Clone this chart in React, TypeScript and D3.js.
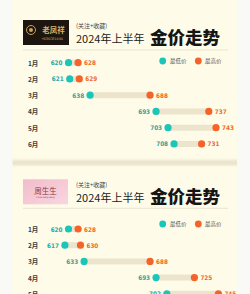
import React from "react";
import * as d3 from "d3";

const months1 = ["1月", "2月", "3月", "4月", "5月", "6月"];
const low1 = [620, 621, 638, 693, 703, 708];
const high1 = [628, 629, 688, 737, 743, 731];

const months2 = ["1月", "2月", "3月", "4月", "5月"];
const low2 = [620, 617, 633, 693, 702];
const high2 = [628, 630, 688, 725, 745];

const subTitle = "(关注+收藏)";
const yearTitle = "2024年上半年";
const mainTitle = "金价走势";
const legendLow = "最低价";
const legendHigh = "最高价";

const TEAL = "#19c6b8";
const TEAL_TXT = "#2aa7a6";
const ORANGE = "#f5622a";
const ORANGE_TXT = "#ee6a2c";
const PANEL = "#fefbe8";
const CJK = "'Noto Sans CJK SC', 'Noto Sans', sans-serif";
const NUM = "'DejaVu Sans Condensed', 'Liberation Sans Narrow', 'Noto Sans', sans-serif";

const x = d3.scaleLinear().domain([620, 743]).range([68.5, 216]);

type CardProps = {
  months: string[];
  low: number[];
  high: number[];
  headerY: number; // top of logo box
  sepY: number;
  legendY: number;
  rowY0: number;
  step: number;
  logo: "lfx" | "css";
};

function Card(p: CardProps) {
  const y = d3.scaleLinear().domain([0, 1]).range([p.rowY0, p.rowY0 + p.step]);
  const hy = p.headerY;
  return (
    <g>
      {p.logo === "lfx" ? (
        <g>
          <rect x={23} y={hy} width={46} height={25} fill="#1d1510" />
          <circle cx={31} cy={hy + 10} r={4.5} fill="none" stroke="#c9a35a" strokeWidth={1} />
          <circle cx={31} cy={hy + 10} r={2} fill="#c9a35a" />
          <text x={53.5} y={hy + 9} textAnchor="middle" dominantBaseline="central" fontFamily={CJK} fontWeight={700} fontSize={7.5} fill="#d9b56a">老凤祥</text>
          <text x={52} y={hy + 19} textAnchor="middle" dominantBaseline="central" fontFamily="'DejaVu Serif', serif" fontSize={3.3} fill="#d9b56a">•SINCE1848</text>
        </g>
      ) : (
        <g>
          <defs>
            <linearGradient id="pinkg" x1="0" y1="0" x2="1" y2="1">
              <stop offset="0%" stopColor="#f2bccb" />
              <stop offset="100%" stopColor="#f8d6df" />
            </linearGradient>
          </defs>
          <rect x={23} y={hy} width={45} height={25} fill="url(#pinkg)" />
          <text x={45.5} y={hy + 11.5} textAnchor="middle" dominantBaseline="central" fontFamily={CJK} fontSize={7.5} fill="#8a3a48">周生生</text>
          <text x={45.5} y={hy + 18.5} textAnchor="middle" dominantBaseline="central" fontFamily="'DejaVu Sans', sans-serif" fontSize={2.2} fill="#8a3a48">Chow Sang Sang</text>
        </g>
      )}
      <text x={76} y={hy + 5.2} dominantBaseline="central" fontFamily={CJK} fontSize={6} fill="#444">{subTitle}</text>
      <text x={76} y={hy + 18} dominantBaseline="central" fontFamily={CJK} fontSize={11} fill="#222">{yearTitle}</text>
      <text x={150} y={hy + 16.5} dominantBaseline="central" fontFamily={CJK} fontWeight={900} fontSize={17.5} fill="#151515">{mainTitle}</text>
      <line x1={23} x2={228} y1={p.sepY} y2={p.sepY} stroke="#e8e2cd" strokeWidth={0.9} />

      <circle cx={162.7} cy={p.legendY} r={3.4} fill={TEAL} />
      <text x={170} y={p.legendY} dominantBaseline="central" fontFamily={CJK} fontSize={5.5} fill="#555">{legendLow}</text>
      <circle cx={198.3} cy={p.legendY} r={3.4} fill={ORANGE} />
      <text x={205} y={p.legendY} dominantBaseline="central" fontFamily={CJK} fontSize={5.5} fill="#555">{legendHigh}</text>

      {p.months.map((m, i) => {
        const cy = y(i);
        const xl = x(p.low[i]);
        const xh = x(p.high[i]);
        return (
          <g key={m}>
            <text x={28} y={cy} dominantBaseline="central" fontFamily={CJK} fontWeight={700} fontSize={6.5} fill="#3a3a3a">{m}</text>
            <rect x={xl} y={cy - 3} width={Math.max(0, xh - xl)} height={6} fill="#ece4cd" />
            <circle cx={xl} cy={cy} r={3.6} fill={TEAL} />
            <circle cx={xh} cy={cy} r={3.6} fill={ORANGE} />
            <text x={xl - 6} y={cy} textAnchor="end" dominantBaseline="central" fontFamily={NUM} fontWeight={700} fontSize={6.3} fill={TEAL_TXT}>{p.low[i]}</text>
            <text x={xh + 6} y={cy} dominantBaseline="central" fontFamily={NUM} fontWeight={700} fontSize={6.3} fill={ORANGE_TXT}>{p.high[i]}</text>
          </g>
        );
      })}
    </g>
  );
}

export default function App() {
  return (
    <svg
      width={250}
      height={294}
      viewBox="0 0 250 294"
      style={{ position: "absolute", left: 0, top: 0, display: "block" }}
    >
      <defs>
        <linearGradient id="gap" x1="0" y1="0" x2="0" y2="1">
          <stop offset="0%" stopColor={PANEL} />
          <stop offset="45%" stopColor="#e9e3cc" />
          <stop offset="70%" stopColor="#ece6d0" />
          <stop offset="100%" stopColor={PANEL} />
        </linearGradient>
      </defs>
      <rect x={0} y={0} width={250} height={294} fill="#f9f9f5" />
      <rect x={12.5} y={0} width={224.5} height={294} fill={PANEL} />
      <rect x={12.5} y={158} width={224.5} height={9} fill="url(#gap)" />
      <Card months={months1} low={low1} high={high1} headerY={20} sepY={50} legendY={61} rowY0={62.7} step={16.25} logo="lfx" />
      <Card months={months2} low={low2} high={high2} headerY={179.3} sepY={208.3} legendY={224} rowY0={229} step={16.2} logo="css" />
    </svg>
  );
}
